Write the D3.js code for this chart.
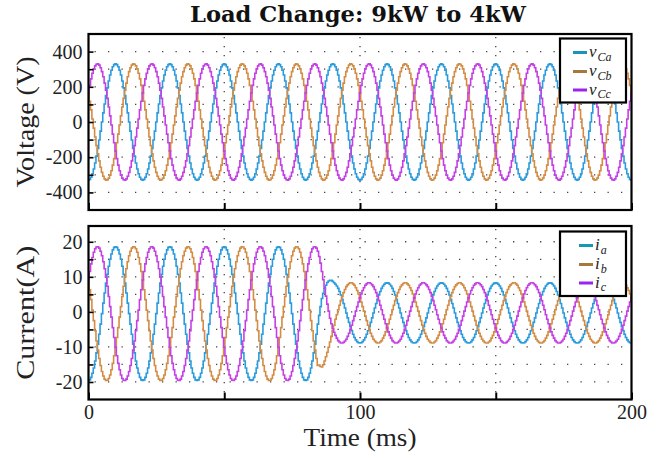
<!DOCTYPE html>
<html><head><meta charset="utf-8">
<script src="https://cdn.jsdelivr.net/npm/d3@7/dist/d3.min.js"></script>
<style>body{margin:0;background:#fff}svg{display:block}</style>
</head><body>
<script>
// ---- data (sampled every 0.5 ms, t = 0..200 ms) ----
const sampleStepMs = 0.5;
const vCa = [
-330,-326,-314,-294,-267,-233,-194,-150,-102,-52,0,52,102,150,194,233,267,294,314,326,330,326,314,294,267,233,194,150,102,52,0,-52,-102,-150,-194,-233,-267,-294,-314,-326,
-330,-326,-314,-294,-267,-233,-194,-150,-102,-52,0,52,102,150,194,233,267,294,314,326,330,326,314,294,267,233,194,150,102,52,0,-52,-102,-150,-194,-233,-267,-294,-314,-326,
-330,-326,-314,-294,-267,-233,-194,-150,-102,-52,0,52,102,150,194,233,267,294,314,326,330,326,314,294,267,233,194,150,102,52,0,-52,-102,-150,-194,-233,-267,-294,-314,-326,
-330,-326,-314,-294,-267,-233,-194,-150,-102,-52,0,52,102,150,194,233,267,294,314,326,330,326,314,294,267,233,194,150,102,52,0,-52,-102,-150,-194,-233,-267,-294,-314,-326,
-330,-326,-314,-294,-267,-233,-194,-150,-102,-52,0,52,102,150,194,233,267,294,314,326,330,326,314,294,267,233,194,150,102,52,0,-52,-102,-150,-194,-233,-267,-294,-314,-326,
-330,-326,-314,-294,-267,-233,-194,-150,-102,-52,0,52,102,150,194,233,267,294,314,326,330,326,314,294,267,233,194,150,102,52,0,-52,-102,-150,-194,-233,-267,-294,-314,-326,
-330,-326,-314,-294,-267,-233,-194,-150,-102,-52,0,52,102,150,194,233,267,294,314,326,330,326,314,294,267,233,194,150,102,52,0,-52,-102,-150,-194,-233,-267,-294,-314,-326,
-330,-326,-314,-294,-267,-233,-194,-150,-102,-52,0,52,102,150,194,233,267,294,314,326,330,326,314,294,267,233,194,150,102,52,0,-52,-102,-150,-194,-233,-267,-294,-314,-326,
-330,-326,-314,-294,-267,-233,-194,-150,-102,-52,0,52,102,150,194,233,267,294,314,326,330,326,314,294,267,233,194,150,102,52,0,-52,-102,-150,-194,-233,-267,-294,-314,-326,
-330,-326,-314,-294,-267,-233,-194,-150,-102,-52,0,52,102,150,194,233,267,294,314,326,330,326,314,294,267,233,194,150,102,52,0,-52,-102,-150,-194,-233,-267,-294,-314,-326,
-330];
const vCb = [
165,118,69,17,-35,-85,-134,-180,-221,-257,-286,-308,-323,-330,-328,-319,-302,-277,-245,-208,-165,-118,-69,-17,35,85,134,180,221,257,286,308,323,330,328,319,302,277,245,208,
165,118,69,17,-35,-85,-134,-180,-221,-257,-286,-308,-323,-330,-328,-319,-302,-277,-245,-208,-165,-118,-69,-17,35,85,134,180,221,257,286,308,323,330,328,319,302,277,245,208,
165,118,69,17,-35,-85,-134,-180,-221,-257,-286,-308,-323,-330,-328,-319,-302,-277,-245,-208,-165,-118,-69,-17,35,85,134,180,221,257,286,308,323,330,328,319,302,277,245,208,
165,118,69,17,-35,-85,-134,-180,-221,-257,-286,-308,-323,-330,-328,-319,-302,-277,-245,-208,-165,-118,-69,-17,35,85,134,180,221,257,286,308,323,330,328,319,302,277,245,208,
165,118,69,17,-35,-85,-134,-180,-221,-257,-286,-308,-323,-330,-328,-319,-302,-277,-245,-208,-165,-118,-69,-17,35,85,134,180,221,257,286,308,323,330,328,319,302,277,245,208,
165,118,69,17,-35,-85,-134,-180,-221,-257,-286,-308,-323,-330,-328,-319,-302,-277,-245,-208,-165,-118,-69,-17,35,85,134,180,221,257,286,308,323,330,328,319,302,277,245,208,
165,118,69,17,-35,-85,-134,-180,-221,-257,-286,-308,-323,-330,-328,-319,-302,-277,-245,-208,-165,-118,-69,-17,35,85,134,180,221,257,286,308,323,330,328,319,302,277,245,208,
165,118,69,17,-35,-85,-134,-180,-221,-257,-286,-308,-323,-330,-328,-319,-302,-277,-245,-208,-165,-118,-69,-17,35,85,134,180,221,257,286,308,323,330,328,319,302,277,245,208,
165,118,69,17,-35,-85,-134,-180,-221,-257,-286,-308,-323,-330,-328,-319,-302,-277,-245,-208,-165,-118,-69,-17,35,85,134,180,221,257,286,308,323,330,328,319,302,277,245,208,
165,118,69,17,-35,-85,-134,-180,-221,-257,-286,-308,-323,-330,-328,-319,-302,-277,-245,-208,-165,-118,-69,-17,35,85,134,180,221,257,286,308,323,330,328,319,302,277,245,208,
165];
const vCc = [
165,208,245,277,302,319,328,330,323,308,286,257,221,180,134,85,35,-17,-69,-118,-165,-208,-245,-277,-302,-319,-328,-330,-323,-308,-286,-257,-221,-180,-134,-85,-35,17,69,118,
165,208,245,277,302,319,328,330,323,308,286,257,221,180,134,85,35,-17,-69,-118,-165,-208,-245,-277,-302,-319,-328,-330,-323,-308,-286,-257,-221,-180,-134,-85,-35,17,69,118,
165,208,245,277,302,319,328,330,323,308,286,257,221,180,134,85,35,-17,-69,-118,-165,-208,-245,-277,-302,-319,-328,-330,-323,-308,-286,-257,-221,-180,-134,-85,-35,17,69,118,
165,208,245,277,302,319,328,330,323,308,286,257,221,180,134,85,35,-17,-69,-118,-165,-208,-245,-277,-302,-319,-328,-330,-323,-308,-286,-257,-221,-180,-134,-85,-35,17,69,118,
165,208,245,277,302,319,328,330,323,308,286,257,221,180,134,85,35,-17,-69,-118,-165,-208,-245,-277,-302,-319,-328,-330,-323,-308,-286,-257,-221,-180,-134,-85,-35,17,69,118,
165,208,245,277,302,319,328,330,323,308,286,257,221,180,134,85,35,-17,-69,-118,-165,-208,-245,-277,-302,-319,-328,-330,-323,-308,-286,-257,-221,-180,-134,-85,-35,17,69,118,
165,208,245,277,302,319,328,330,323,308,286,257,221,180,134,85,35,-17,-69,-118,-165,-208,-245,-277,-302,-319,-328,-330,-323,-308,-286,-257,-221,-180,-134,-85,-35,17,69,118,
165,208,245,277,302,319,328,330,323,308,286,257,221,180,134,85,35,-17,-69,-118,-165,-208,-245,-277,-302,-319,-328,-330,-323,-308,-286,-257,-221,-180,-134,-85,-35,17,69,118,
165,208,245,277,302,319,328,330,323,308,286,257,221,180,134,85,35,-17,-69,-118,-165,-208,-245,-277,-302,-319,-328,-330,-323,-308,-286,-257,-221,-180,-134,-85,-35,17,69,118,
165,208,245,277,302,319,328,330,323,308,286,257,221,180,134,85,35,-17,-69,-118,-165,-208,-245,-277,-302,-319,-328,-330,-323,-308,-286,-257,-221,-180,-134,-85,-35,17,69,118,
165];
const iA = [
-19.6,-19.4,-18.7,-17.5,-16.0,-14.0,-11.7,-9.2,-6.4,-3.5,-0.5,2.5,5.4,8.2,10.7,13.0,15.0,16.5,17.7,18.4,18.6,18.4,17.7,16.5,15.0,13.0,10.7,8.2,5.4,2.5,-0.5,-3.5,-6.4,-9.2,-11.7,-14.0,-16.0,-17.5,-18.7,-19.4,
-19.6,-19.4,-18.7,-17.5,-16.0,-14.0,-11.7,-9.2,-6.4,-3.5,-0.5,2.5,5.4,8.2,10.7,13.0,15.0,16.5,17.7,18.4,18.6,18.4,17.7,16.5,15.0,13.0,10.7,8.2,5.4,2.5,-0.5,-3.5,-6.4,-9.2,-11.7,-14.0,-16.0,-17.5,-18.7,-19.4,
-19.6,-19.4,-18.7,-17.5,-16.0,-14.0,-11.7,-9.2,-6.4,-3.5,-0.5,2.5,5.4,8.2,10.7,13.0,15.0,16.5,17.7,18.4,18.6,18.4,17.7,16.5,15.0,13.0,10.7,8.2,5.4,2.5,-0.5,-3.5,-6.4,-9.2,-11.7,-14.0,-16.0,-17.5,-18.7,-19.4,
-19.6,-19.4,-18.7,-17.5,-16.0,-14.0,-11.7,-9.2,-6.4,-3.5,-0.5,2.5,5.4,8.2,10.7,13.0,15.0,16.5,17.7,18.4,18.6,18.4,17.7,16.5,15.0,13.0,10.7,8.2,5.4,2.5,-0.5,-3.5,-6.4,-9.2,-11.7,-14.0,-16.0,-17.5,-18.7,-19.4,
-19.6,-19.4,-18.7,-17.5,-16.0,-14.0,-11.7,-9.2,-6.4,-3.5,
-1.0,1.5,3.8,5.3,6.6,7.6,8.4,8.8,9.0,9.0,8.7,8.3,
7.9,7.4,6.7,5.8,4.8,3.6,2.4,1.1,-0.3,-1.7,-3.0,-4.2,-5.4,-6.4,-7.3,-8.0,-8.5,-8.8,
-8.9,-8.8,-8.5,-8.0,-7.3,-6.4,-5.4,-4.2,-3.0,-1.7,-0.3,1.1,2.4,3.6,4.8,5.8,6.7,7.4,7.9,8.2,8.3,8.2,7.9,7.4,6.7,5.8,4.8,3.6,2.4,1.1,-0.3,-1.7,-3.0,-4.2,-5.4,-6.4,-7.3,-8.0,-8.5,-8.8,
-8.9,-8.8,-8.5,-8.0,-7.3,-6.4,-5.4,-4.2,-3.0,-1.7,-0.3,1.1,2.4,3.6,4.8,5.8,6.7,7.4,7.9,8.2,8.3,8.2,7.9,7.4,6.7,5.8,4.8,3.6,2.4,1.1,-0.3,-1.7,-3.0,-4.2,-5.4,-6.4,-7.3,-8.0,-8.5,-8.8,
-8.9,-8.8,-8.5,-8.0,-7.3,-6.4,-5.4,-4.2,-3.0,-1.7,-0.3,1.1,2.4,3.6,4.8,5.8,6.7,7.4,7.9,8.2,8.3,8.2,7.9,7.4,6.7,5.8,4.8,3.6,2.4,1.1,-0.3,-1.7,-3.0,-4.2,-5.4,-6.4,-7.3,-8.0,-8.5,-8.8,
-8.9,-8.8,-8.5,-8.0,-7.3,-6.4,-5.4,-4.2,-3.0,-1.7,-0.3,1.1,2.4,3.6,4.8,5.8,6.7,7.4,7.9,8.2,8.3,8.2,7.9,7.4,6.7,5.8,4.8,3.6,2.4,1.1,-0.3,-1.7,-3.0,-4.2,-5.4,-6.4,-7.3,-8.0,-8.5,-8.8,
-8.9,-8.8,-8.5,-8.0,-7.3,-6.4,-5.4,-4.2,-3.0,-1.7,-0.3,1.1,2.4,3.6,4.8,5.8,6.7,7.4,7.9,8.2,8.3,8.2,7.9,7.4,6.7,5.8,4.8,3.6,2.4,1.1,-0.3,-1.7,-3.0,-4.2,-5.4,-6.4,-7.3,-8.0,-8.5,-8.8,
-8.9];
const iB = [
9.1,6.3,3.5,0.5,-2.5,-5.4,-8.3,-10.9,-13.3,-15.3,-17.0,-18.3,-19.2,-19.6,-19.5,-19.0,-18.0,-16.5,-14.7,-12.5,-10.1,-7.3,-4.5,-1.5,1.5,4.4,7.3,9.9,12.3,14.3,16.0,17.3,18.2,18.6,18.5,18.0,17.0,15.5,13.7,11.5,
9.1,6.3,3.5,0.5,-2.5,-5.4,-8.3,-10.9,-13.3,-15.3,-17.0,-18.3,-19.2,-19.6,-19.5,-19.0,-18.0,-16.5,-14.7,-12.5,-10.1,-7.3,-4.5,-1.5,1.5,4.4,7.3,9.9,12.3,14.3,16.0,17.3,18.2,18.6,18.5,18.0,17.0,15.5,13.7,11.5,
9.1,6.3,3.5,0.5,-2.5,-5.4,-8.3,-10.9,-13.3,-15.3,-17.0,-18.3,-19.2,-19.6,-19.5,-19.0,-18.0,-16.5,-14.7,-12.5,-10.1,-7.3,-4.5,-1.5,1.5,4.4,7.3,9.9,12.3,14.3,16.0,17.3,18.2,18.6,18.5,18.0,17.0,15.5,13.7,11.5,
9.1,6.3,3.5,0.5,-2.5,-5.4,-8.3,-10.9,-13.3,-15.3,-17.0,-18.3,-19.2,-19.6,-19.5,-19.0,-18.0,-16.5,-14.7,-12.5,-10.1,-7.3,-4.5,-1.5,1.5,4.4,7.3,9.9,12.3,14.3,16.0,17.3,18.2,18.6,18.5,18.0,17.0,15.5,13.7,11.5,
9.1,6.3,3.5,0.5,-2.5,-5.4,-8.3,-10.9,-13.3,-15.3,
-15.2,-15.6,-15.7,-15.1,-14.0,-12.8,-11.5,-10.1,-8.6,-7.0,-5.4,-3.8,
-2.1,-0.8,0.6,1.9,3.2,4.4,5.5,6.4,7.2,7.7,8.1,8.3,8.3,8.0,7.6,6.9,6.1,5.1,
4.0,2.8,1.5,0.2,-1.2,-2.5,-3.8,-5.0,-6.1,-7.0,-7.8,-8.3,-8.7,-8.9,-8.9,-8.6,-8.2,-7.5,-6.7,-5.7,-4.6,-3.4,-2.1,-0.8,0.6,1.9,3.2,4.4,5.5,6.4,7.2,7.7,8.1,8.3,8.3,8.0,7.6,6.9,6.1,5.1,
4.0,2.8,1.5,0.2,-1.2,-2.5,-3.8,-5.0,-6.1,-7.0,-7.8,-8.3,-8.7,-8.9,-8.9,-8.6,-8.2,-7.5,-6.7,-5.7,-4.6,-3.4,-2.1,-0.8,0.6,1.9,3.2,4.4,5.5,6.4,7.2,7.7,8.1,8.3,8.3,8.0,7.6,6.9,6.1,5.1,
4.0,2.8,1.5,0.2,-1.2,-2.5,-3.8,-5.0,-6.1,-7.0,-7.8,-8.3,-8.7,-8.9,-8.9,-8.6,-8.2,-7.5,-6.7,-5.7,-4.6,-3.4,-2.1,-0.8,0.6,1.9,3.2,4.4,5.5,6.4,7.2,7.7,8.1,8.3,8.3,8.0,7.6,6.9,6.1,5.1,
4.0,2.8,1.5,0.2,-1.2,-2.5,-3.8,-5.0,-6.1,-7.0,-7.8,-8.3,-8.7,-8.9,-8.9,-8.6,-8.2,-7.5,-6.7,-5.7,-4.6,-3.4,-2.1,-0.8,0.6,1.9,3.2,4.4,5.5,6.4,7.2,7.7,8.1,8.3,8.3,8.0,7.6,6.9,6.1,5.1,
4.0,2.8,1.5,0.2,-1.2,-2.5,-3.8,-5.0,-6.1,-7.0,-7.8,-8.3,-8.7,-8.9,-8.9,-8.6,-8.2,-7.5,-6.7,-5.7,-4.6,-3.4,-2.1,-0.8,0.6,1.9,3.2,4.4,5.5,6.4,7.2,7.7,8.1,8.3,8.3,8.0,7.6,6.9,6.1,5.1,
4.0];
const iC = [
9.1,11.5,13.7,15.5,17.0,18.0,18.5,18.6,18.2,17.3,16.0,14.3,12.3,9.9,7.3,4.4,1.5,-1.5,-4.5,-7.3,-10.1,-12.5,-14.7,-16.5,-18.0,-19.0,-19.5,-19.6,-19.2,-18.3,-17.0,-15.3,-13.3,-10.9,-8.3,-5.4,-2.5,0.5,3.5,6.3,
9.1,11.5,13.7,15.5,17.0,18.0,18.5,18.6,18.2,17.3,16.0,14.3,12.3,9.9,7.3,4.4,1.5,-1.5,-4.5,-7.3,-10.1,-12.5,-14.7,-16.5,-18.0,-19.0,-19.5,-19.6,-19.2,-18.3,-17.0,-15.3,-13.3,-10.9,-8.3,-5.4,-2.5,0.5,3.5,6.3,
9.1,11.5,13.7,15.5,17.0,18.0,18.5,18.6,18.2,17.3,16.0,14.3,12.3,9.9,7.3,4.4,1.5,-1.5,-4.5,-7.3,-10.1,-12.5,-14.7,-16.5,-18.0,-19.0,-19.5,-19.6,-19.2,-18.3,-17.0,-15.3,-13.3,-10.9,-8.3,-5.4,-2.5,0.5,3.5,6.3,
9.1,11.5,13.7,15.5,17.0,18.0,18.5,18.6,18.2,17.3,16.0,14.3,12.3,9.9,7.3,4.4,1.5,-1.5,-4.5,-7.3,-10.1,-12.5,-14.7,-16.5,-18.0,-19.0,-19.5,-19.6,-19.2,-18.3,-17.0,-15.3,-13.3,-10.9,-8.3,-5.4,-2.5,0.5,3.5,6.3,
9.1,11.5,13.7,15.5,17.0,18.0,18.5,18.6,18.2,17.3,
15.8,13.9,11.5,9.2,6.8,4.5,2.2,0.2,-1.8,-3.4,-4.8,-5.8,
-6.7,-7.5,-8.2,-8.6,-8.9,-8.9,-8.7,-8.3,-7.8,-7.0,-6.1,-5.0,-3.8,-2.5,-1.2,0.2,1.5,2.8,
4.0,5.1,6.1,6.9,7.6,8.0,8.3,8.3,8.1,7.7,7.2,6.4,5.5,4.4,3.2,1.9,0.6,-0.8,-2.1,-3.4,-4.6,-5.7,-6.7,-7.5,-8.2,-8.6,-8.9,-8.9,-8.7,-8.3,-7.8,-7.0,-6.1,-5.0,-3.8,-2.5,-1.2,0.2,1.5,2.8,
4.0,5.1,6.1,6.9,7.6,8.0,8.3,8.3,8.1,7.7,7.2,6.4,5.5,4.4,3.2,1.9,0.6,-0.8,-2.1,-3.4,-4.6,-5.7,-6.7,-7.5,-8.2,-8.6,-8.9,-8.9,-8.7,-8.3,-7.8,-7.0,-6.1,-5.0,-3.8,-2.5,-1.2,0.2,1.5,2.8,
4.0,5.1,6.1,6.9,7.6,8.0,8.3,8.3,8.1,7.7,7.2,6.4,5.5,4.4,3.2,1.9,0.6,-0.8,-2.1,-3.4,-4.6,-5.7,-6.7,-7.5,-8.2,-8.6,-8.9,-8.9,-8.7,-8.3,-7.8,-7.0,-6.1,-5.0,-3.8,-2.5,-1.2,0.2,1.5,2.8,
4.0,5.1,6.1,6.9,7.6,8.0,8.3,8.3,8.1,7.7,7.2,6.4,5.5,4.4,3.2,1.9,0.6,-0.8,-2.1,-3.4,-4.6,-5.7,-6.7,-7.5,-8.2,-8.6,-8.9,-8.9,-8.7,-8.3,-7.8,-7.0,-6.1,-5.0,-3.8,-2.5,-1.2,0.2,1.5,2.8,
4.0,5.1,6.1,6.9,7.6,8.0,8.3,8.3,8.1,7.7,7.2,6.4,5.5,4.4,3.2,1.9,0.6,-0.8,-2.1,-3.4,-4.6,-5.7,-6.7,-7.5,-8.2,-8.6,-8.9,-8.9,-8.7,-8.3,-7.8,-7.0,-6.1,-5.0,-3.8,-2.5,-1.2,0.2,1.5,2.8,
4.0];

const timeDomain = [0, 200];
const timeTicks = [0, 50, 100, 150, 200];
const timeTickLabels = [0, 100, 200];
const voltDomain = [-500, 500];
const voltGrid = [-400, -300, -200, -100, 0, 100, 200, 300, 400];
const voltTickLabels = [-400, -200, 0, 200, 400];
const currDomain = [-25, 24.5];
const currGrid = [-20, -15, -10, -5, 0, 5, 10, 15, 20];
const currTickLabels = [-20, -10, 0, 10, 20];
const voltNames = ["Ca", "Cb", "Cc"];
const currNames = ["a", "b", "c"];

// ---- styles ----
const lineColors = ["#2a9bdc", "#d38c44", "#c43fe4"];
const legendColors = ["#1995b5", "#a6783e", "#9e22ee"];
const serif = "'Liberation Serif', 'Times New Roman', serif";

const W = 661, H = 458;
const svg = d3.select("body").append("svg").attr("width", W).attr("height", H);
const x = d3.scaleLinear().domain(timeDomain).range([88.5, 631.5]);

const panels = [
  {id: "v", top: 34, bottom: 210, domain: voltDomain, grid: voltGrid, labels: voltTickLabels,
   series: [vCa, vCb, vCc], ylabel: "Voltage (V)", ylabelLen: 131,
   legend: {sym: "v", subs: voltNames, box: [560, 38.5, 66, 64], line: [573, 587], text: 589}},
  {id: "i", top: 226, bottom: 399.5, domain: currDomain, grid: currGrid, labels: currTickLabels,
   series: [iA, iB, iC], ylabel: "Current(A)", ylabelLen: 134,
   legend: {sym: "i", subs: currNames, box: [560, 231.5, 66, 64.5], line: [579, 593], text: 595}}
];

panels.forEach((p, pi) => {
  const y = d3.scaleLinear().domain(p.domain).range([p.bottom, p.top]);
  const g = svg.append("g");
  const clipId = "clip-" + p.id;
  svg.append("clipPath").attr("id", clipId).append("rect")
    .attr("x", x(0)).attr("y", p.top).attr("width", x(200) - x(0)).attr("height", p.bottom - p.top);

  // dotted grid
  g.append("g").selectAll("line").data(p.grid).join("line")
    .attr("x1", x(0) + 6).attr("x2", x(200)).attr("y1", d => y(d)).attr("y2", d => y(d))
    .attr("stroke", "#444").attr("stroke-width", 1.3).attr("stroke-dasharray", "1.3 12.2");
  g.append("g").selectAll("line").data([50, 100, 150]).join("line")
    .attr("x1", d => x(d)).attr("x2", d => x(d)).attr("y1", p.top + 3).attr("y2", p.bottom)
    .attr("stroke", "#444").attr("stroke-width", 1.3).attr("stroke-dasharray", "1.3 7.7");

  // series
  const line = d3.line().x((d, i) => x(i * sampleStepMs)).y(d => y(d)).curve(d3.curveStep);
  const lg = g.append("g").attr("clip-path", `url(#${clipId})`);
  p.series.forEach((s, si) => {
    lg.append("path").datum(s).attr("d", line).attr("fill", "none")
      .attr("stroke", lineColors[si]).attr("stroke-width", 1.6).attr("stroke-linejoin", "miter");
  });

  // y axis
  const ya = d3.axisLeft(y).tickValues(p.grid).tickSize(-5).tickPadding(6)
    .tickFormat(d => p.labels.includes(d) ? String(d) : "");
  const yg = g.append("g").attr("transform", `translate(${x(0)},0)`).call(ya);
  yg.select(".domain").remove();
  yg.selectAll(".tick line").attr("stroke", "#000").attr("stroke-width", 1.6);
  yg.selectAll(".tick text").attr("font-family", serif).attr("font-size", 20).attr("fill", "#222");

  // x axis
  const xa = d3.axisBottom(x).tickValues(timeTicks).tickSize(-7).tickPadding(5)
    .tickFormat(d => (pi === 1 && timeTickLabels.includes(d)) ? String(d) : "");
  const xg = g.append("g").attr("transform", `translate(0,${p.bottom})`).call(xa);
  xg.select(".domain").remove();
  xg.selectAll(".tick line").attr("stroke", "#000").attr("stroke-width", 2);
  xg.selectAll(".tick text").attr("font-family", serif).attr("font-size", 20).attr("fill", "#222");

  // frame
  g.append("rect").attr("x", x(0)).attr("y", p.top).attr("width", x(200) - x(0)).attr("height", p.bottom - p.top)
    .attr("fill", "none").attr("stroke", "#000").attr("stroke-width", 2.2);

  // y label
  g.append("text").attr("transform", `translate(34,${(p.top + p.bottom) / 2}) rotate(-90)`)
    .attr("text-anchor", "middle").attr("font-family", serif).attr("font-size", 25).attr("fill", "#222")
    .attr("textLength", p.ylabelLen).attr("lengthAdjust", "spacingAndGlyphs").text(p.ylabel);

  // legend
  const L = p.legend;
  g.append("rect").attr("x", L.box[0]).attr("y", L.box[1]).attr("width", L.box[2]).attr("height", L.box[3])
    .attr("fill", "#fff").attr("stroke", "#000").attr("stroke-width", 2.2);
  const offs = [14, 33, 51.5];
  L.subs.forEach((sub, k) => {
    const yy = L.box[1] + offs[k];
    g.append("line").attr("x1", L.line[0]).attr("x2", L.line[1]).attr("y1", yy).attr("y2", yy)
      .attr("stroke", legendColors[k]).attr("stroke-width", 3);
    const main = g.append("text").attr("x", L.text).attr("y", yy + 4.5)
      .attr("font-family", serif).attr("font-style", "italic").attr("font-size", 17).attr("fill", "#222")
      .text(L.sym);
    const wMain = main.node().getComputedTextLength();
    g.append("text").attr("x", L.text + wMain + 1).attr("y", yy + 8)
      .attr("font-family", serif).attr("font-style", "italic").attr("font-size", 12).attr("fill", "#222")
      .text(sub);
  });
});

// x label
svg.append("text").attr("x", x(100)).attr("y", 446).attr("text-anchor", "middle")
  .attr("font-family", serif).attr("font-size", 25).attr("fill", "#222")
  .attr("textLength", 113).attr("lengthAdjust", "spacingAndGlyphs").text("Time (ms)");

// title
svg.append("text").attr("x", 358).attr("y", 22).attr("text-anchor", "middle")
  .attr("font-family", "'DejaVu Serif', serif").attr("font-weight", "bold").attr("font-size", 21.5)
  .attr("fill", "#111").attr("textLength", 336).attr("lengthAdjust", "spacingAndGlyphs")
  .text("Load Change: 9kW to 4kW");
</script>
</body></html>
